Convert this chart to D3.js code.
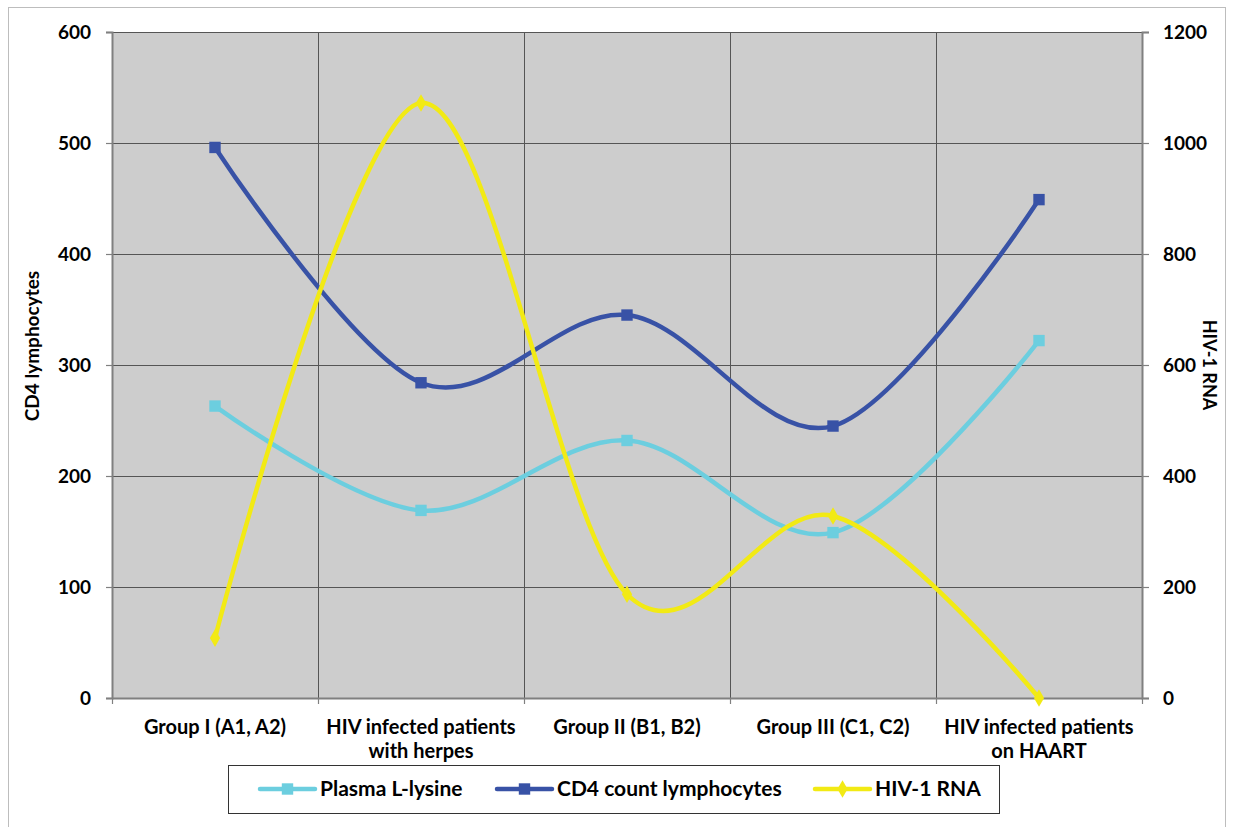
<!DOCTYPE html>
<html>
<head>
<meta charset="utf-8">
<script src="https://cdn.jsdelivr.net/npm/d3@7/dist/d3.min.js"></script>
<style>
  html, body { margin: 0; padding: 0; background: #ffffff; }
  svg { display: block; }
  text { font-family: Lato, "Open Sans", sans-serif; font-weight: bold; fill: #000; }
</style>
</head>
<body>
<svg id="chart" width="1233" height="827"></svg>
<script>
// ---- data ----
const categories = [
  "Group I (A1, A2)",
  "HIV infected patients\nwith herpes",
  "Group II (B1, B2)",
  "Group III (C1, C2)",
  "HIV infected patients\non HAART"
];
const lysine = [263, 169, 232, 149, 322];
const cd4 = [496, 284, 345, 245, 449];
const rna = [108, 1072, 187, 328, 0];
const leftTicks = [0, 100, 200, 300, 400, 500, 600];
const rightTicks = [0, 200, 400, 600, 800, 1000, 1200];
const seriesNames = ["Plasma L-lysine", "CD4 count lymphocytes", "HIV-1 RNA"];

// ---- layout ----
const svg = d3.select("#chart");
const L = 112, R = 1142, T = 32, B = 698;

svg.append("rect").attr("x", 8.5).attr("y", 7.5).attr("width", 1217).attr("height", 830)
  .attr("fill", "#fff").attr("stroke", "#bdbdbd").attr("stroke-width", 1);

const x = d3.scaleBand().domain(categories).range([L, R]).padding(0);
const cx = c => x(c) + x.bandwidth() / 2;
const yL = d3.scaleLinear().domain([0, 600]).range([B, T]);
const yR = d3.scaleLinear().domain([0, 1200]).range([B, T]);

// plot background
svg.append("rect").attr("x", L).attr("y", T).attr("width", R - L).attr("height", B - T)
  .attr("fill", "#cdcdcd");

// horizontal gridlines
svg.append("g").selectAll("line").data(leftTicks).join("line")
  .attr("x1", L).attr("x2", R).attr("y1", d => Math.round(yL(d)) + 0.5).attr("y2", d => Math.round(yL(d)) + 0.5)
  .attr("stroke", "#555").attr("stroke-width", 1);
// vertical gridlines
const edges = categories.map(c => x(c)).concat([R]);
svg.append("g").selectAll("line").data(edges.slice(1, -1)).join("line")
  .attr("x1", d => Math.round(d) + 0.5).attr("x2", d => Math.round(d) + 0.5).attr("y1", T).attr("y2", B)
  .attr("stroke", "#555").attr("stroke-width", 1);

// axes
const axL = svg.append("g").attr("transform", `translate(${L},0)`)
  .call(d3.axisLeft(yL).tickValues(leftTicks).tickSize(6).tickPadding(15).tickFormat(d3.format("d")));
const axR = svg.append("g").attr("transform", `translate(${R},0)`)
  .call(d3.axisRight(yR).tickValues(rightTicks).tickSize(7).tickPadding(14).tickFormat(d3.format("d")));
const axB = svg.append("g").attr("transform", `translate(0,${B})`)
  .call(d3.axisBottom(x).tickSize(0).tickFormat(""));
[axL, axR, axB].forEach(a => {
  a.selectAll(".domain").attr("stroke", "#808080").attr("stroke-width", 2);
  a.selectAll(".tick line").attr("stroke", "#808080").attr("stroke-width", 1.2);
  a.selectAll("text").style("font-size", "19px").style("font-family", "Lato, sans-serif").style("font-weight", "bold").attr("fill", "#000");
});
// bottom ticks at band edges
svg.append("g").selectAll("line").data(edges).join("line")
  .attr("x1", d => Math.round(d) + 0.5).attr("x2", d => Math.round(d) + 0.5).attr("y1", B).attr("y2", B + 6)
  .attr("stroke", "#808080").attr("stroke-width", 1.2);

// category labels
const catG = svg.append("g");
categories.forEach(c => {
  const lines = c.split("\n");
  const t = catG.append("text").attr("x", cx(c)).attr("y", 734).attr("text-anchor", "middle")
    .style("font-size", "20px");
  lines.forEach((ln, i) => t.append("tspan").attr("x", cx(c)).attr("dy", i === 0 ? 0 : 24).text(ln));
});

// axis titles
svg.append("text").attr("transform", "translate(39,346) rotate(-90)").attr("text-anchor", "middle")
  .style("font-size", "19px").text("CD4 lymphocytes");
svg.append("text").attr("transform", "translate(1203,365) rotate(90)").attr("text-anchor", "middle")
  .style("font-size", "18px").text("HIV-1 RNA");

// series
const colors = ["#6ccedf", "#3852a6", "#f2ea14"];
const line = d3.line().curve(d3.curveCardinal.tension(0));
const series = [
  { vals: lysine, scale: yL, color: colors[0], marker: "square" },
  { vals: cd4, scale: yL, color: colors[1], marker: "square" },
  { vals: rna, scale: yR, color: colors[2], marker: "diamond" }
];
const sq = d3.symbol().type(d3.symbolSquare).size(130);
const dm = d3.symbol().type(d3.symbolDiamond).size(90);

series.forEach(s => {
  const pts = s.vals.map((v, i) => [cx(categories[i]), s.scale(v)]);
  svg.append("path").attr("d", line(pts)).attr("fill", "none")
    .attr("stroke", s.color).attr("stroke-width", 4.5).attr("stroke-linejoin", "round").attr("stroke-linecap", "round");
  svg.append("g").selectAll("path").data(pts).join("path")
    .attr("transform", d => `translate(${d[0]},${d[1]})`)
    .attr("d", s.marker === "square" ? sq() : dm())
    .attr("fill", s.color);
});

// legend
const lg = svg.append("g");
lg.append("rect").attr("x", 228.5).attr("y", 765.5).attr("width", 771).attr("height", 48)
  .attr("fill", "#fff").attr("stroke", "#333").attr("stroke-width", 1);
const legendX = [260, 497, 815];
seriesNames.forEach((n, i) => {
  const x0 = legendX[i], yy = 789;
  lg.append("line").attr("x1", x0).attr("x2", x0 + 55).attr("y1", yy).attr("y2", yy)
    .attr("stroke", series[i].color).attr("stroke-width", 4.5).attr("stroke-linecap", "round");
  lg.append("path").attr("transform", `translate(${x0 + 27.5},${yy})`)
    .attr("d", series[i].marker === "square" ? sq() : dm())
    .attr("fill", series[i].color);
  lg.append("text").attr("x", x0 + 60).attr("y", yy + 7).style("font-size", "21px").text(n);
});
</script>
</body>
</html>
